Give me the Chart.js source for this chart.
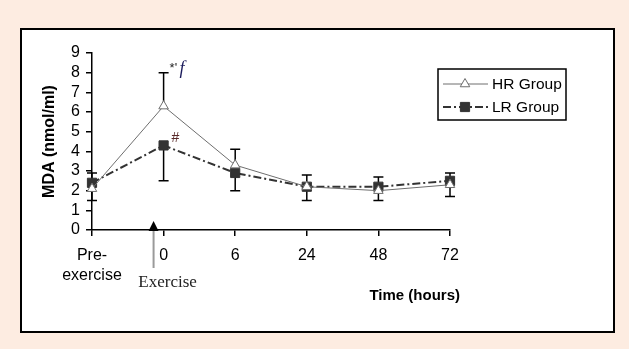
<!DOCTYPE html>
<html>
<head>
<meta charset="utf-8">
<script src="https://cdn.jsdelivr.net/npm/chart.js@4"></script>
<style>
  html, body { margin: 0; padding: 0; background: #fdece1; }
  #frame {
    position: absolute; left: 20px; top: 28px;
    width: 591px; height: 301px;
    background: #fff; border: 2px solid #000;
  }
  #wrap { position: absolute; left: 0; top: 0; width: 629px; height: 349px; }
</style>
</head>
<body>
<div id="frame"></div>
<div id="wrap"><canvas id="chart" width="629" height="349"></canvas></div>
<script>
  /* --- Data --- */
  const timeLabels = [['Pre-', 'exercise'], '0', '6', '24', '48', '72'];
  const hrValues = [2.1, 6.3, 3.3, 2.2, 2.0, 2.3];
  const lrValues = [2.4, 4.3, 2.9, 2.2, 2.2, 2.5];
  const hrUpper = [2.9, 8.0, 4.1, 2.8, 2.7, 2.9];   // top of HR error bar
  const lrLower = [1.5, 2.5, 2.0, 1.5, 1.5, 1.7];   // bottom of LR error bar
  const yTicks = [0, 1, 2, 3, 4, 5, 6, 7, 8, 9];
  const exerciseAt = 0.86;                           // between Pre and 0
  const notes = [
    { index: 1, series: 'hrUpper', text: "*'", italic: 'f' },
    { index: 1, series: 'lr', text: '#' }
  ];

  const INK = '#000';
  const HR_COLOR = '#6e6e6e';
  const LR_COLOR = '#333';

  /* --- Error bars, drawn under the markers --- */
  const errorBars = {
    id: 'errorBars',
    beforeDatasetsDraw(chart) {
      const { ctx, scales: { x, y } } = chart;
      ctx.save();
      ctx.strokeStyle = INK;
      ctx.lineWidth = 1.5;
      const bar = (i, from, to) => {
        const px = x.getPixelForValue(i);
        const y0 = y.getPixelForValue(from), y1 = y.getPixelForValue(to);
        ctx.beginPath();
        ctx.moveTo(px, y0); ctx.lineTo(px, y1);
        ctx.moveTo(px - 5, y1); ctx.lineTo(px + 5, y1);
        ctx.stroke();
      };
      hrValues.forEach((v, i) => bar(i, v, hrUpper[i]));
      lrValues.forEach((v, i) => bar(i, v, lrLower[i]));
      ctx.restore();
    }
  };

  /* --- Texts, arrow and legend --- */
  const decorations = {
    id: 'decorations',
    afterDraw(chart) {
      const { ctx, scales: { x, y } } = chart;
      ctx.save();

      // y title
      ctx.fillStyle = INK;
      ctx.font = "bold 16px 'Liberation Sans', Arial, sans-serif";
      ctx.textAlign = 'center';
      ctx.textBaseline = 'middle';
      ctx.translate(50, (chart.chartArea.top + chart.chartArea.bottom) / 2);
      ctx.rotate(-Math.PI / 2);
      ctx.fillText('MDA (nmol/ml)', 0, 0);
      ctx.setTransform(1, 0, 0, 1, 0, 0);

      // x title
      ctx.font = "bold 15px 'Liberation Sans', Arial, sans-serif";
      ctx.textAlign = 'right';
      ctx.fillText('Time (hours)', 460, 296);

      // exercise arrow
      const ax = x.getPixelForValue(exerciseAt);
      const base = y.getPixelForValue(0);
      ctx.strokeStyle = '#9a9a9a';
      ctx.lineWidth = 2;
      ctx.beginPath();
      ctx.moveTo(ax, base + 1); ctx.lineTo(ax, base + 38);
      ctx.stroke();
      ctx.fillStyle = INK;
      ctx.beginPath();
      ctx.moveTo(ax, base - 9); ctx.lineTo(ax - 5, base + 1); ctx.lineTo(ax + 5, base + 1);
      ctx.closePath();
      ctx.fill();
      ctx.fillStyle = '#222';
      ctx.font = "17px 'Liberation Serif', 'Times New Roman', serif";
      ctx.textAlign = 'center';
      ctx.textBaseline = 'alphabetic';
      ctx.fillText('Exercise', ax + 14, base + 57);

      // significance marks
      const seriesVal = { hrUpper, lr: lrValues, hr: hrValues };
      notes.forEach(n => {
        const px = x.getPixelForValue(n.index);
        const py = y.getPixelForValue(seriesVal[n.series][n.index]);
        ctx.textAlign = 'left';
        ctx.textBaseline = 'alphabetic';
        if (n.italic) {
          ctx.fillStyle = '#222';
          ctx.font = "13px 'Liberation Sans', Arial, sans-serif";
          ctx.fillText(n.text, px + 6, py - 1);
          ctx.fillStyle = '#1c1c5c';
          ctx.font = "italic 18px 'Liberation Serif', serif";
          ctx.fillText(n.italic, px + 16, py + 1);
        } else {
          ctx.fillStyle = '#5a2a2a';
          ctx.font = "14px 'Liberation Sans', Arial, sans-serif";
          ctx.fillText(n.text, px + 8, py - 3);
        }
      });

      // legend box
      const lx = 438, ly = 69, lw = 128, lh = 51;
      ctx.fillStyle = '#fff';
      ctx.fillRect(lx, ly, lw, lh);
      ctx.strokeStyle = INK;
      ctx.lineWidth = 1.5;
      ctx.strokeRect(lx, ly, lw, lh);
      chart.data.datasets.forEach((ds, i) => {
        const ry = ly + 15 + i * 23;
        ctx.strokeStyle = ds.borderColor;
        ctx.lineWidth = ds.borderWidth;
        ctx.setLineDash(ds.borderDash || []);
        ctx.beginPath();
        ctx.moveTo(lx + 5, ry); ctx.lineTo(lx + 50, ry);
        ctx.stroke();
        ctx.setLineDash([]);
        ctx.fillStyle = ds.pointBackgroundColor;
        ctx.strokeStyle = ds.pointBorderColor;
        ctx.lineWidth = 1;
        Chart.helpers.drawPoint(ctx, {
          pointStyle: ds.pointStyle, radius: ds.pointRadius, borderWidth: 1
        }, lx + 27, ry);
        ctx.fillStyle = INK;
        ctx.font = "15.5px 'Liberation Sans', Arial, sans-serif";
        ctx.textAlign = 'left';
        ctx.textBaseline = 'middle';
        ctx.fillText(ds.label, lx + 54, ry + 1);
      });
      ctx.restore();
    }
  };

  new Chart(document.getElementById('chart'), {
    type: 'line',
    data: {
      labels: timeLabels,
      datasets: [
        {
          label: 'HR Group',
          data: hrValues,
          borderColor: HR_COLOR,
          borderWidth: 1,
          pointStyle: 'triangle',
          pointRadius: 5.5,
          pointBackgroundColor: '#fff',
          pointBorderColor: HR_COLOR,
          pointBorderWidth: 1,
          tension: 0
        },
        {
          label: 'LR Group',
          data: lrValues,
          borderColor: LR_COLOR,
          borderWidth: 2,
          borderDash: [8, 3, 2, 3],
          pointStyle: 'rect',
          pointRadius: 6.5,
          pointBackgroundColor: LR_COLOR,
          pointBorderColor: LR_COLOR,
          pointBorderWidth: 1,
          tension: 0
        }
      ]
    },
    options: {
      responsive: false,
      animation: false,
      layout: { padding: { left: 0, right: 179, top: 53, bottom: 0 } },
      plugins: { legend: { display: false }, tooltip: { enabled: false } },
      scales: {
        x: {
          offset: false,
          border: { color: INK, width: 1.5 },
          grid: { drawOnChartArea: false, drawTicks: true, tickLength: 6, color: INK, lineWidth: 1.5 },
          ticks: {
            color: INK, padding: 10, maxRotation: 0, autoSkip: false,
            font: { family: "'Liberation Sans', Arial, sans-serif", size: 16, lineHeight: 1.25 }
          },
          afterFit: s => { s.height = 119; }
        },
        y: {
          min: 0, max: 9,
          border: { color: INK, width: 1.5 },
          grid: { drawOnChartArea: false, drawTicks: true, tickLength: 6, color: INK, lineWidth: 1.5 },
          afterBuildTicks: s => { s.ticks = yTicks.map(v => ({ value: v })); },
          ticks: {
            color: INK, padding: 6, autoSkip: false,
            font: { family: "'Liberation Sans', Arial, sans-serif", size: 16 }
          },
          afterFit: s => { s.width = 92; }
        }
      }
    },
    plugins: [errorBars, decorations]
  });
</script>
</body>
</html>
